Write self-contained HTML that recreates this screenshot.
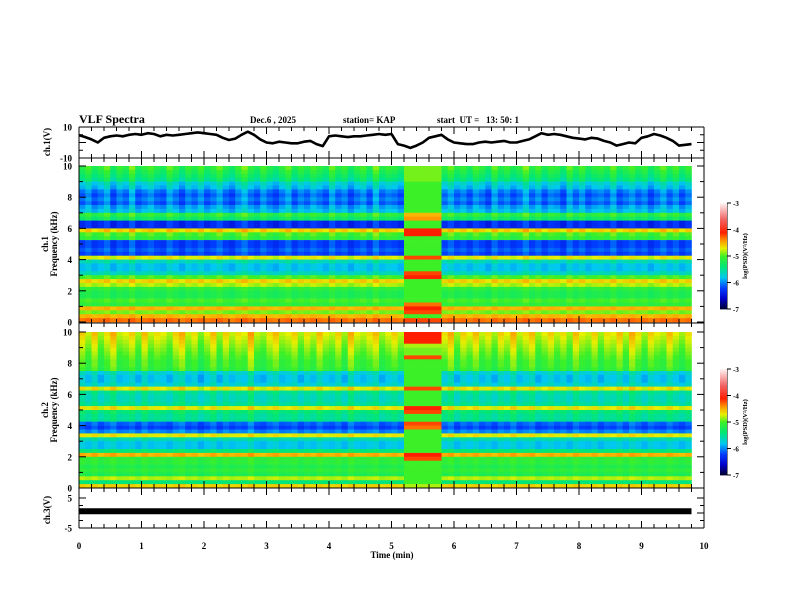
<!DOCTYPE html>
<html><head><meta charset="utf-8"><style>
html,body{margin:0;padding:0;background:#fff}
svg{display:block}
text{font-family:"Liberation Serif",serif;font-weight:bold;fill:#000}
</style></head><body>
<svg id="chart" width="792" height="612" viewBox="0 0 792 612" xmlns="http://www.w3.org/2000/svg">
<g>
<text x="79" y="123" font-size="12">VLF Spectra</text>
<text x="250" y="123" font-size="9">Dec.6  , 2025</text>
<text x="343" y="123" font-size="9">station= KAP</text>
<text x="437" y="123" font-size="9" xml:space="preserve">start  UT =   13: 50: 1</text>
</g>
<g id="heat"></g>
<g id="wave"></g>
<g id="axes"></g>
<g id="cbars"></g>
</svg>
<script>
// ---------- data ----------
const timeTicks = [0,1,2,3,4,5,6,7,8,9,10];
const freqTicks = [0,2,4,6,8,10];
const cbarTicks = [-3,-4,-5,-6,-7];
const ch1Wave = [4.8,3.5,2,0,3,4,4.5,4,5,5.5, 5,6,5.5,4,5,4.5,5,5.5,6,6.5, 6,5.5,5,3,1.6,2.5,5,7,5,2,
 0,-0.5,0.5,0,-0.5,-0.5,0.5,1,-1,-2.3, 4,4.5,4,3.5,4,4,4.5,5,5.5,5, 5.5,-1,-2,-3.5,-2,0,3,4,5,2,
 0,-0.5,-1,-1,0,0.5,0,0.5,1,0, 0,1,2,4,6,5,5.5,5,4,3, 2.5,2,3,2.5,1,0,-2,-1,0,-0.5, 3,4,5.5,4.5,3,1,-2,-1.5,-1];
const ch3Level = 0.6;
const ch1Rows = [-5.1,-5.2,-5.3,-5.4,-5.7,-5.8,-6.0,-6.1,-6.0,-6.1,-5.9,-5.8,-5.1,-5.3,-6.3,-6.3,-4.6,-5.0,-5.1,-6.2,
 -6.2,-6.1,-6.2,-4.7,-5.6,-5.8,-5.8,-5.6,-5.0,-4.6,-4.8,-5.1,-5.2,-5.2,-5.0,-5.1,-4.5,-4.9,-4.5,-4.3];
const ch1Burst = [-4.9,-4.9,-4.9,-4.9,-5.0,-5.0,-5.0,-5.0,-5.0,-5.0,-5.0,-5.0,-4.5,-4.4,-5.0,-5.0,-4.1,-4.1,-5.0,-5.0,
 -5.0,-5.0,-5.0,-4.2,-5.0,-5.0,-5.0,-4.2,-4.1,-5.0,-5.0,-5.0,-5.0,-5.0,-5.0,-4.3,-4.1,-4.2,-5.0,-4.2];
const ch2Rows = [-4.7,-4.75,-4.8,-4.85,-4.9,-4.95,-5.0,-5.05,-5.05,-5.1,-5.7,-5.8,-5.8,-5.7,-4.7,-5.5,-5.6,-5.6,-5.5,-4.7,
 -5.4,-5.5,-5.5,-6.1,-6.2,-6.0,-4.7,-5.6,-5.8,-5.8,-5.4,-4.5,-5.1,-5.1,-5.2,-5.1,-5.2,-4.8,-5.4,-4.6];
const ch2Burst = [-4.1,-4.1,-4.1,-4.8,-4.9,-4.9,-4.2,-5.0,-5.0,-5.0,-5.0,-5.0,-5.0,-5.0,-4.2,-5.0,-5.0,-5.0,-5.0,-4.1,
 -4.2,-5.0,-5.0,-4.2,-4.3,-5.0,-5.0,-5.0,-5.0,-5.0,-5.0,-4.1,-4.2,-5.0,-5.0,-5.0,-5.0,-5.0,-5.0,-4.8];
const burstStart = 5.2, burstEnd = 5.8;
const ch1Cols = [0.2,0.5,0.1,0.3,0.6,0.0,0.4,0.2,0.7,0.1, 0.3,0.5,0.2,0.1,0.6,0.3,0.0,0.4,0.2,0.5, 0.1,0.3,0.6,0.2,0.0,0.4,0.7,0.3,0.1,0.5,
 0.2,0.0,0.3,0.6,0.1,0.4,0.2,0.5,0.3,0.1, 0.6,0.2,0.4,0.0,0.3,0.5,0.1,0.7,0.2,0.4, 0.3,0.1,0.2,0.3,0.2,0.2,0.3,0.2,0.3,0.6,
 0.2,0.4,0.1,0.5,0.3,0.0,0.6,0.2,0.4,0.1, 0.3,0.7,0.2,0.5,0.1,0.4,0.3,0.0,0.6,0.2, 0.5,0.1,0.3,0.4,0.2,0.6,0.1,0.3,0.5,0.2, 0.4,0.0,0.3,0.6,0.2,0.5,0.1,0.4];
const ch2Cols = [0.5,0.2,0.6,0.1,0.4,0.7,0.2,0.3,0.5,0.1, 0.6,0.2,0.4,0.3,0.1,0.5,0.7,0.2,0.4,0.0, 0.3,0.6,0.1,0.5,0.2,0.4,0.3,0.8,0.2,0.1,
 0.4,0.6,0.2,0.3,0.5,0.1,0.4,0.2,0.6,0.3, 0.2,0.5,0.1,0.7,0.3,0.2,0.4,0.6,0.1,0.3, 0.5,0.2,0.3,0.2,0.3,0.2,0.3,0.2,0.4,0.7,
 0.1,0.5,0.3,0.6,0.2,0.4,0.1,0.5,0.3,0.7, 0.2,0.4,0.6,0.1,0.3,0.5,0.2,0.4,0.1,0.6, 0.3,0.2,0.5,0.1,0.4,0.3,0.6,0.2,0.7,0.4, 0.1,0.5,0.3,0.2,0.6,0.3,0.1,0.4];
const colStep = 0.1;

// ---------- layout ----------
const X0=79, X1=704;
const xS = t => X0 + (X1-X0)*t/10;
const P = {w:{top:127,bot:158}, s1:{top:158,bot:323,d0:322,d1:166}, s2:{top:323,bot:488,d0:488,d1:332}, c3:{top:488,bot:528}};
const yW = v => 142.5 - v*1.55;
const y3 = v => 513 - v*3;
const NS="http://www.w3.org/2000/svg";
function mk(tag, parent, attrs){const e=document.createElementNS(NS,tag);for(const k in attrs)e.setAttribute(k,attrs[k]);parent.appendChild(e);return e;}

const stops=[[-7,0,0,40],[-6.6,0,0,200],[-6.2,0,60,255],[-5.8,0,200,240],[-5.4,0,230,120],[-5.0,60,240,40],[-4.7,230,240,0],[-4.4,255,150,0],[-4.1,255,30,0],[-3.6,240,100,100],[-3.0,255,240,240]];
function cmap(v){v=Math.max(-7,Math.min(-3,v));for(let i=1;i<stops.length;i++){if(v<=stops[i][0]){const a=stops[i-1],b=stops[i],f=(v-a[0])/(b[0]-a[0]);return `rgb(${Math.round(a[1]+f*(b[1]-a[1]))},${Math.round(a[2]+f*(b[2]-a[2]))},${Math.round(a[3]+f*(b[3]-a[3]))})`;}}return 'rgb(255,240,240)';}

// ---------- heatmaps ----------
const heat=document.getElementById('heat');
function drawSpec(rows, burst, cols, panel, name){
  const g=mk('g',heat,{});
  
  
  const nR=rows.length, rh=(panel.d0-panel.d1)/nR;
  cols.forEach((co,c)=>{
    const t0=c*colStep, t1=(c+1)*colStep, inB = t0>=burstStart-1e-9 && t1<=burstEnd+1e-9;
    const x=xS(t0), w=xS(t1)-x+0.3;
    for(let r=0;r<nR;r++){
      const wgt = 1 - r/nR*0.8;
      const v = inB ? burst[r] : rows[r] + (co-0.3)*0.6*wgt;
      const rc=mk('rect',g,{x:x.toFixed(2),y:(panel.d1+r*rh).toFixed(2),width:w.toFixed(2),height:(rh+0.3).toFixed(2),fill:cmap(v)});
      
      
    }
  });
}
drawSpec(ch1Rows, ch1Burst, ch1Cols, P.s1, 'ch1-spectrogram');
drawSpec(ch2Rows, ch2Burst, ch2Cols, P.s2, 'ch2-spectrogram');

// ---------- waveform & ch3 ----------
const wave=document.getElementById('wave');
const pts=ch1Wave.map((v,i)=>`${xS(i*colStep).toFixed(1)},${yW(v).toFixed(1)}`).join(' ');
const wl=mk('polyline',wave,{points:pts,fill:'none',stroke:'#000','stroke-width':2.6,'stroke-linejoin':'round'});


const c3=mk('line',wave,{x1:xS(0),x2:xS((ch1Wave.length-1)*colStep),y1:y3(ch3Level),y2:y3(ch3Level),stroke:'#000','stroke-width':6});



// ---------- axes ----------
const ax=document.getElementById('axes');
function line(x1,y1,x2,y2,w){return mk('line',ax,{x1,y1,x2,y2,stroke:'#000','stroke-width':w||1});}
function txt(x,y,s,size,anchor,name,rot){const t=mk('text',ax,{x,y,'font-size':size,'text-anchor':anchor||'middle'});if(rot)t.setAttribute('transform',`rotate(-90 ${x} ${y})`);t.textContent=s;return t;}
line(X0,127,X0,528);line(X1,127,X1,528);line(X0,127,X1,127);
[158,323,488,528].forEach(y=>line(X0,y,X1,y));
Object.values(P).forEach(p=>{
  for(let i=0;i<=50;i++){const t=i*0.2,x=xS(t),L=(i%5===0)?7:4;line(x,p.top,x,p.top+L);line(x,p.bot,x,p.bot-L);}
});
timeTicks.forEach(t=>txt(xS(t),549,String(t),9,'middle','x-tick-label'));
txt(392,558,'Time  (min)',9,'middle','x-axis-title');
[[10,'10'],[-10,'-10']].forEach(([v,s])=>{txt(72,yW(v)+3.5,s,9,'end','ch1-y-tick-label');});
for(let v=-10;v<=10;v+=5){const y=yW(v),L=v%10===0?7:4;line(X0,y,X0+L,y);line(X1,y,X1-L,y);}
[P.s1,P.s2].forEach((p,k)=>{
  const fy=f=>p.d0-(p.d0-p.d1)*f/10;
  freqTicks.forEach(f=>txt(72,fy(f)+3.5,String(f),9,'end','freq-tick-label'));
  for(let f=0;f<=10;f++){const y=fy(f),L=f%2===0?7:4;line(X0,y,X0+L,y);line(X1,y,X1-L,y);}
});
[[5,'5'],[-5,'-5']].forEach(([v,s])=>txt(72,y3(v)+3.5,s,9,'end','ch3-y-tick-label'));
for(let v=-5;v<=5;v+=2.5){const y=y3(v),L=v%5===0?7:4;line(X0,y,X0+L,y);line(X1,y,X1-L,y);}
txt(50,142,'ch.1(V)',9,'middle','ch1-y-axis-title',true);
txt(48,244,'ch.1',9,'middle','ch1-spec-channel-label',true);
txt(57,244,'Frequency  (kHz)',9,'middle','ch1-freq-axis-title',true);
txt(48,410,'ch.2',9,'middle','ch2-spec-channel-label',true);
txt(57,410,'Frequency  (kHz)',9,'middle','ch2-freq-axis-title',true);
txt(50,510,'ch.3(V)',9,'middle','ch3-y-axis-title',true);

// ---------- colorbars ----------
const cb=document.getElementById('cbars');
[[203,309],[369,475]].forEach(([t,b],k)=>{
  const g=mk('g',cb,{});
  
  
  const n=106;
  for(let i=0;i<n;i++){const v=-3-4*i/n;mk('rect',g,{x:720,y:(t+(b-t)*i/n).toFixed(2),width:7,height:((b-t)/n+0.4).toFixed(2),fill:cmap(v)});}
  line(727,t,727,b);
  cbarTicks.forEach(v=>{const y=t+(b-t)*(-3-v)/4;line(727,y,731,y);txt(733,y+3,String(v),7,'start','colorbar-tick-label');});
  txt(747,(t+b)/2,'log(PSD)(V²/Hz)',6.5,'middle','colorbar-title',true);
});
</script>
</body></html>
